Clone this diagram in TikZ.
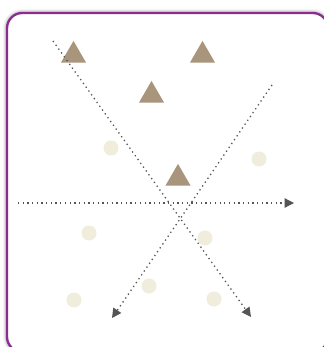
\documentclass[tikz,border=0pt]{standalone}
\usepackage{tikz}
\usetikzlibrary{arrows.meta, positioning, calc, shapes.geometric}
\usepackage{xcolor}
\definecolor{framepurple}{RGB}{139, 45, 143}
\definecolor{tricolor}{RGB}{168, 149, 124}
\definecolor{dotcolor}{RGB}{241, 237, 220}
\definecolor{axisgray}{RGB}{85, 85, 85}

\begin{document}
\begin{tikzpicture}[
  x=0.03cm, y=-0.03cm,
  frame/.style={draw=framepurple, line width=2pt, rounded corners=13pt, fill=white},
  tri/.style={regular polygon, regular polygon sides=3, fill=tricolor,
              draw=none, inner sep=0pt, minimum size=0.87cm},
  blob/.style={circle, fill=dotcolor, draw=none, inner sep=0pt, minimum size=0.45cm},
  arr/.style={-{Triangle[length=8pt, width=8pt]}, color=axisgray,
              line width=1.1pt, dash pattern=on 1.1pt off 2.9pt}
]
\useasboundingbox (0,0) rectangle (323,347);
% soft shadow round the frame
\foreach \w/\o in {7pt/0.04, 5pt/0.06, 3.5pt/0.08}
  \draw[line width=\w, black, opacity=\o, rounded corners=13pt] (7,13) rectangle (328,352);
\draw[frame] (7,13) rectangle (328,352);

% triangles
\node[tri] (t1) at (73.5,55.4) {};
\node[tri] (t2) at (202.5,55.4) {};
\node[tri] (t3) at (151.5,95.4) {};
\node[tri] (t4) at (178,178.4) {};

% circles
\node[blob] (c1) at (111,148) {};
\node[blob] (c2) at (259,159) {};
\node[blob] (c3) at (89,233) {};
\node[blob] (c4) at (205,238) {};
\node[blob] (c5) at (149,286) {};
\node[blob] (c6) at (74,300) {};
\node[blob] (c7) at (214,299) {};

% axis ends
\coordinate (h0) at (18,203);
\coordinate (h1) at (294,203);
\coordinate (a0) at (53,41);
\coordinate (a1) at (251,317);
\coordinate (b0) at (272,85);
\coordinate (b1) at (112,318);

\draw[arr] (h0) -- (h1);
\draw[arr] (a0) -- (a1);
\draw[arr] (b0) -- (b1);
\end{tikzpicture}
\end{document}
